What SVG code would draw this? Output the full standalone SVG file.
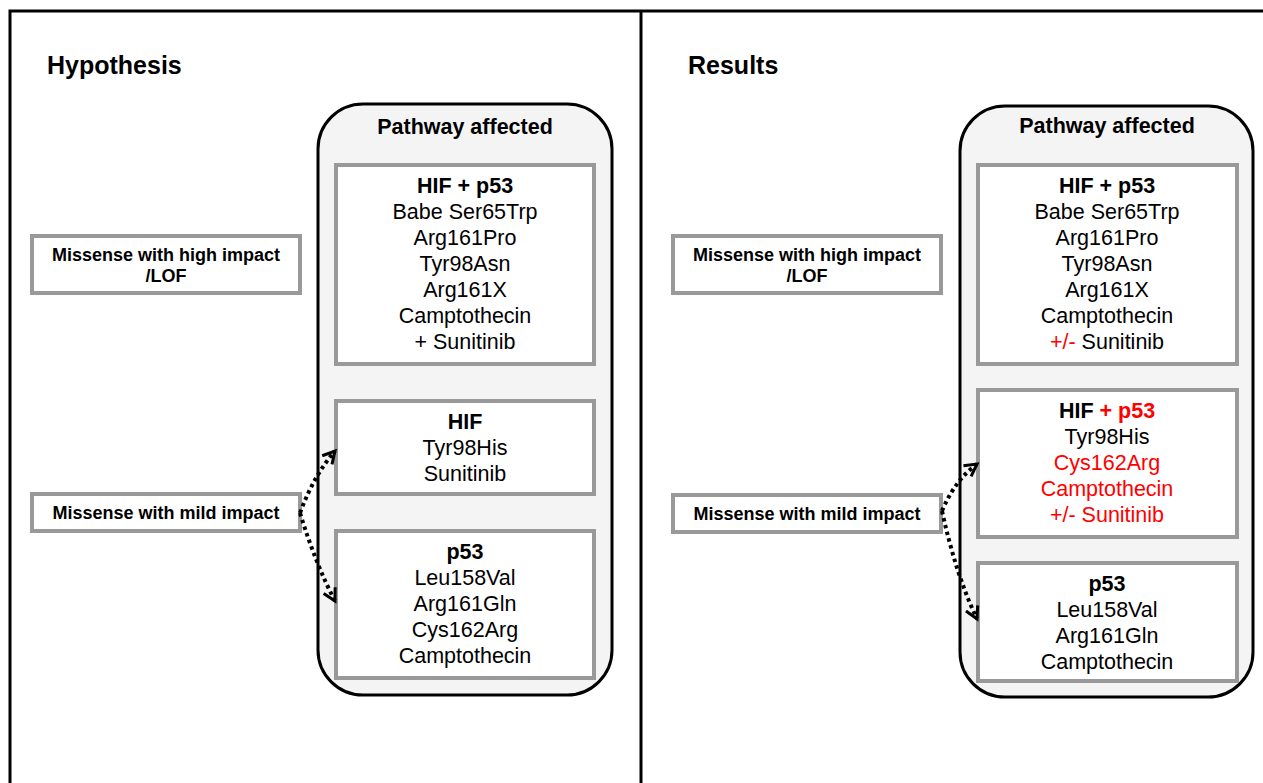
<svg xmlns="http://www.w3.org/2000/svg" width="1263" height="783" viewBox="0 0 1263 783">
<defs>
<style>
.t{font-family:"Liberation Sans",Arial,sans-serif;fill:#000;text-anchor:middle}
.h{font-size:25px;font-weight:bold;text-anchor:start}
.pa{font-size:21.5px;font-weight:bold}
.b{font-size:21.5px}
.bb{font-size:21.5px;font-weight:bold}
.m{font-size:18px;font-weight:bold}
.red{fill:#ff0000}
.cont{fill:#f4f4f4;stroke:#000;stroke-width:3}
.box{fill:#fff;stroke:#999;stroke-width:4}
.conn{fill:none;stroke:#000;stroke-width:4;stroke-dasharray:3.5 3.5}
</style>
<marker id="ah" viewBox="0 0 16 16" refX="13" refY="8" markerWidth="16" markerHeight="16" markerUnits="userSpaceOnUse" orient="auto">
<path d="M1,1.5 L13,8 L1,14.5" fill="none" stroke="#000" stroke-width="3"/>
</marker>
</defs>
<rect width="1263" height="783" fill="#fff"/>
<g id="frame">
<rect x="10" y="11" width="1270" height="800" fill="none" stroke="#000" stroke-width="3"/>
<line x1="641" y1="11" x2="641" y2="790" stroke="#000" stroke-width="3"/>
</g>
<g id="hypothesis-title"><text class="t h" x="47" y="74">Hypothesis</text></g>
<g id="results-title"><text class="t h" x="688" y="74">Results</text></g>

<g id="h-pathway">
<rect class="cont" x="318" y="104" width="294" height="591" rx="45"/>
<text class="t pa" x="465" y="134">Pathway affected</text>
</g>
<g id="h-box1">
<rect class="box" x="336" y="165" width="258" height="199"/>
<text class="t bb" x="465" y="193">HIF + p53</text>
<text class="t b" x="465" y="219">Babe Ser65Trp</text>
<text class="t b" x="465" y="245">Arg161Pro</text>
<text class="t b" x="465" y="271">Tyr98Asn</text>
<text class="t b" x="465" y="297">Arg161X</text>
<text class="t b" x="465" y="323">Camptothecin</text>
<text class="t b" x="465" y="349">+ Sunitinib</text>
</g>
<g id="h-box2">
<rect class="box" x="336" y="401" width="258" height="93"/>
<text class="t bb" x="465" y="429">HIF</text>
<text class="t b" x="465" y="455">Tyr98His</text>
<text class="t b" x="465" y="481">Sunitinib</text>
</g>
<g id="h-box3">
<rect class="box" x="336" y="531" width="258" height="147"/>
<text class="t bb" x="465" y="559">p53</text>
<text class="t b" x="465" y="585">Leu158Val</text>
<text class="t b" x="465" y="611">Arg161Gln</text>
<text class="t b" x="465" y="637">Cys162Arg</text>
<text class="t b" x="465" y="663">Camptothecin</text>
</g>
<g id="h-high">
<rect class="box" x="32" y="236" width="268" height="57"/>
<text class="t m" x="166" y="261">Missense with high impact</text>
<text class="t m" x="166" y="282">/LOF</text>
</g>
<g id="h-mild">
<rect class="box" x="32" y="494" width="268" height="37"/>
<text class="t m" x="166" y="519">Missense with mild impact</text>
</g>

<g id="r-pathway">
<rect class="cont" x="960" y="106" width="293" height="591" rx="45"/>
<text class="t pa" x="1107" y="133">Pathway affected</text>
</g>
<g id="r-box1">
<rect class="box" x="978" y="165" width="259" height="199"/>
<text class="t bb" x="1107" y="193">HIF + p53</text>
<text class="t b" x="1107" y="219">Babe Ser65Trp</text>
<text class="t b" x="1107" y="245">Arg161Pro</text>
<text class="t b" x="1107" y="271">Tyr98Asn</text>
<text class="t b" x="1107" y="297">Arg161X</text>
<text class="t b" x="1107" y="323">Camptothecin</text>
<text class="t b" x="1107" y="349"><tspan class="red">+/-</tspan> Sunitinib</text>
</g>
<g id="r-box2">
<rect class="box" x="978" y="390" width="259" height="147"/>
<text class="t bb" x="1107" y="418">HIF <tspan class="red">+ p53</tspan></text>
<text class="t b" x="1107" y="444">Tyr98His</text>
<text class="t b red" x="1107" y="470">Cys162Arg</text>
<text class="t b red" x="1107" y="496">Camptothecin</text>
<text class="t b red" x="1107" y="522">+/- Sunitinib</text>
</g>
<g id="r-box3">
<rect class="box" x="978" y="563" width="259" height="118"/>
<text class="t bb" x="1107" y="591">p53</text>
<text class="t b" x="1107" y="617">Leu158Val</text>
<text class="t b" x="1107" y="643">Arg161Gln</text>
<text class="t b" x="1107" y="669">Camptothecin</text>
</g>
<g id="r-high">
<rect class="box" x="673" y="236" width="268" height="57"/>
<text class="t m" x="807" y="261">Missense with high impact</text>
<text class="t m" x="807" y="282">/LOF</text>
</g>
<g id="r-mild">
<rect class="box" x="673" y="495" width="268" height="37"/>
<text class="t m" x="807" y="520">Missense with mild impact</text>
</g>

<g id="connectors">
<path class="conn" d="M300,513 Q314,475 335,451" marker-end="url(#ah)"/>
<path class="conn" d="M300,513 Q316,565 335,601" marker-end="url(#ah)"/>
<path class="conn" d="M942,511 Q955,480 977,464" marker-end="url(#ah)"/>
<path class="conn" d="M942,511 Q956,575 977,619" marker-end="url(#ah)"/>
</g>
</svg>
